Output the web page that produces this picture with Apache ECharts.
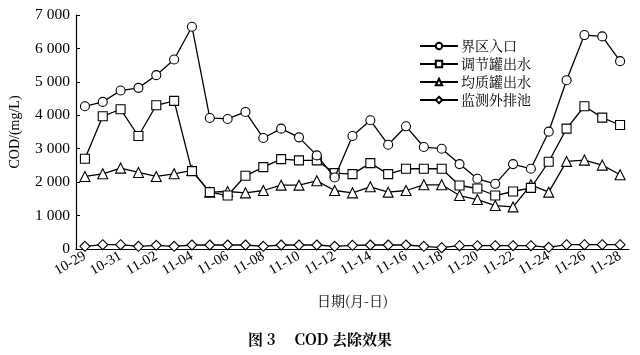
<!DOCTYPE html>
<html><head><meta charset="utf-8">
<script src="https://cdn.jsdelivr.net/npm/echarts@6/dist/echarts.min.js"></script>
<style>html,body{margin:0;padding:0;background:#fff}#c{width:640px;height:355px}</style>
</head><body><div id="c"></div>
<script>
const dates = ['10-29','10-30','10-31','11-01','11-02','11-03','11-04','11-05','11-06','11-07','11-08','11-09','11-10','11-11','11-12','11-13','11-14','11-15','11-16','11-17','11-18','11-19','11-20','11-21','11-22','11-23','11-24','11-25','11-26','11-27','11-28'];
const inlet = [4270,4400,4740,4820,5200,5670,6650,3920,3890,4100,3320,3600,3340,2800,2140,3380,3850,3120,3670,3050,3000,2540,2100,1950,2540,2400,3510,5050,6400,6360,5620];
const regTank = [2700,3970,4180,3380,4300,4430,2330,1700,1600,2190,2450,2690,2650,2650,2270,2240,2570,2240,2400,2400,2400,1900,1810,1600,1720,1830,2610,3600,4270,3930,3710];
const homTank = [2170,2250,2420,2290,2170,2250,2350,1700,1720,1680,1750,1910,1910,2040,1750,1680,1860,1700,1750,1920,1920,1600,1480,1300,1260,1920,1700,2620,2660,2510,2220];
const outPool = [80,130,130,80,110,80,120,120,120,120,80,120,120,120,80,110,120,120,120,80,40,100,100,100,100,100,50,130,130,130,130];
const seriesNames = ['界区入口','调节罐出水','均质罐出水','监测外排池'];
const yTicks = [0,1000,2000,3000,4000,5000,6000,7000];

const serif = '"Liberation Serif","DejaVu Serif","Noto Sans CJK SC",serif';
const cjk = '"Noto Serif CJK SC","Noto Sans CJK SC",serif';
const symbols = ['circle','rect','triangle','diamond'];
const sizes = [9,9,10,10];
const datasets = [inlet, regTank, homTank, outPool];

const chart = echarts.init(document.getElementById('c'), null, {renderer:'canvas'});
chart.setOption({
  animation:false,
  backgroundColor:'#fff',
  grid:{left:66,top:15,right:11,bottom:106,containLabel:false},
  legend:{
    orient:'vertical', left:414, top:34, itemWidth:38, itemHeight:8, itemGap:4,
    data: seriesNames,
    textStyle:{fontFamily:cjk,fontSize:14,color:'#000',padding:[0,0,0,-2]},
    inactiveColor:'#000'
  },
  xAxis:{
    type:'category', data:dates, boundaryGap:true,
    name:'日期(月-日)', nameLocation:'middle', nameGap:45,
    nameTextStyle:{fontFamily:cjk,fontSize:14,color:'#000'},
    axisLine:{lineStyle:{color:'#000',width:1.2}},
    axisTick:{show:false},
    axisLabel:{interval:1, rotate:30, fontFamily:serif, fontSize:14.5, color:'#000', margin:6}
  },
  yAxis:{
    type:'value', min:0, max:7000, interval:1000,
    name:'COD/(mg/L)', nameLocation:'middle', nameGap:54, nameRotate:90,
    nameTextStyle:{fontFamily:serif,fontSize:14,color:'#000'},
    axisLine:{show:true,lineStyle:{color:'#000',width:1.2}},
    axisTick:{show:true,inside:true,length:4,lineStyle:{color:'#000'}},
    splitLine:{show:false},
    axisLabel:{fontFamily:serif,fontSize:15.5,color:'#000',margin:6,
      formatter:v=> yTicks.includes(v) ? (v>=1000 ? Math.floor(v/1000)+' '+String(v%1000).padStart(3,'0') : String(v)) : ''}
  },
  series: seriesNames.map((n,i)=>({
    name:n, type:'line', data:datasets[i], symbol:symbols[i], symbolSize:sizes[i],
    showAllSymbol:true, z: 10-i,
    lineStyle:{color:'#000',width:1.3},
    itemStyle:{color:'#fff',borderColor:'#000',borderWidth:1.1}
  })),
  graphic:[{type:'text', left:'center', top:332,
    style:{text:'图 3     COD 去除效果', font:'bold 15px '+cjk, fill:'#000'}}]
});
</script></body></html>
